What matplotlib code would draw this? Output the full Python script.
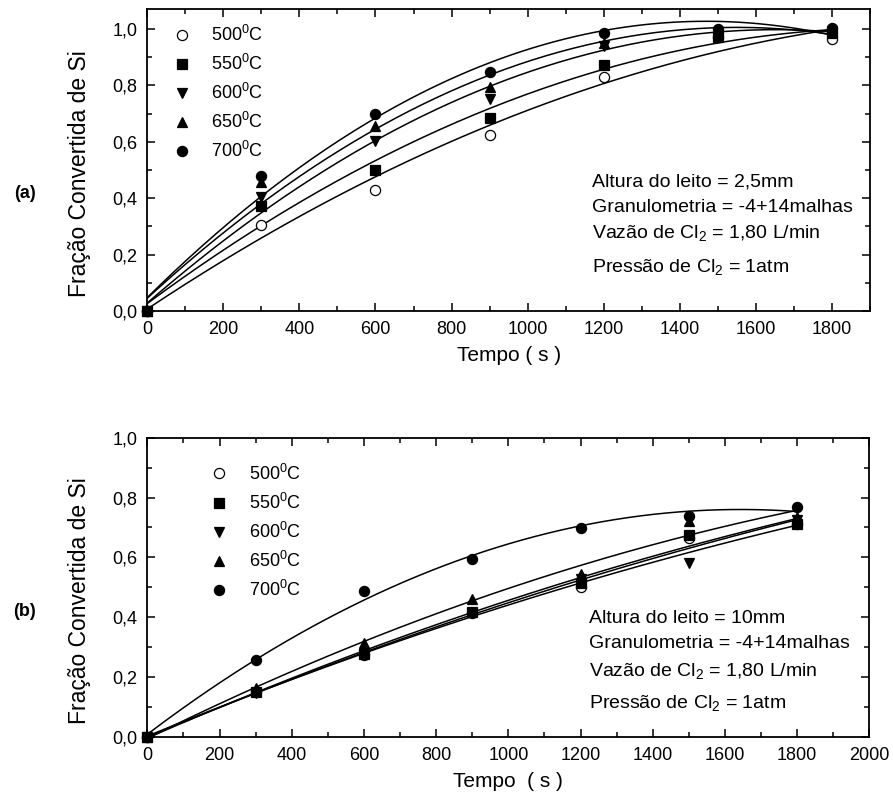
import numpy as np
import matplotlib
matplotlib.use('Agg')
import matplotlib.pyplot as plt
from matplotlib.ticker import MultipleLocator, FuncFormatter

plt.rcParams['font.family'] = ['Liberation Sans', 'DejaVu Sans']
plt.rcParams['mathtext.fontset'] = 'custom'
plt.rcParams['mathtext.rm'] = 'Liberation Sans'
plt.rcParams['mathtext.it'] = 'Liberation Sans'
plt.rcParams['mathtext.default'] = 'regular'

tempo = [0, 300, 600, 900, 1200, 1500, 1800]
temps = ['500', '550', '600', '650', '700']
markers = ['o', 's', 'v', '^', 'o']
filled = [False, True, True, True, True]

# (a) altura do leito 2,5mm
frac_a_500 = [0.0, 0.305, 0.430, 0.625, 0.829, 0.970, 0.965]
frac_a_550 = [0.0, 0.371, 0.501, 0.684, 0.871, 0.972, 0.986]
frac_a_600 = [0.0, 0.404, 0.602, 0.753, 0.941, 0.989, 0.992]
frac_a_650 = [0.0, 0.456, 0.655, 0.795, 0.951, 0.996, 0.996]
frac_a_700 = [0.0, 0.480, 0.699, 0.848, 0.986, 1.000, 1.004]

# (b) altura do leito 10mm
frac_b_500 = [0.0, 0.151, 0.274, 0.415, 0.502, 0.664, 0.712]
frac_b_550 = [0.0, 0.151, 0.277, 0.419, 0.516, 0.675, 0.712]
frac_b_600 = [0.0, 0.148, 0.277, 0.413, 0.527, 0.580, 0.725]
frac_b_650 = [0.0, 0.163, 0.315, 0.460, 0.543, 0.723, 0.736]
frac_b_700 = [0.0, 0.257, 0.489, 0.595, 0.697, 0.739, 0.767]

series_a = [frac_a_500, frac_a_550, frac_a_600, frac_a_650, frac_a_700]
series_b = [frac_b_500, frac_b_550, frac_b_600, frac_b_650, frac_b_700]

notes_a = ['Altura do leito = 2,5mm', 'Granulometria = -4+14malhas',
           'Vazão de Cl$_2$ = 1,80 L/min', 'Pressão de Cl$_2$ = 1atm']
notes_b = ['Altura do leito = 10mm', 'Granulometria = -4+14malhas',
           'Vazão de Cl$_2$ = 1,80 L/min', 'Pressão de Cl$_2$ = 1atm']


def comma(v, pos):
    return ('%.1f' % v).replace('.', ',')


def draw(ax, series, notes, xmax, ymax, xlabel, tag, tag_y, leg_anchor, note_pos):
    tt = np.linspace(0, 1800, 200)
    handles = []
    for vals, temp, mk, fl in zip(series, temps, markers, filled):
        # quadratic fit like the original curves
        coef = np.polyfit(tempo, vals, 2)
        ax.plot(tt, np.polyval(coef, tt), color='black', lw=1.1, zorder=2)
        h, = ax.plot(tempo, vals, ls='none', marker=mk, ms=7.3,
                     mfc='black' if fl else 'white', mec='black', mew=0.9,
                     label=temp + '$^{0}$C', zorder=3, clip_on=False)
        handles.append(h)

    ax.set_xlim(0, xmax)
    ax.set_ylim(0, ymax)
    ax.xaxis.set_major_locator(MultipleLocator(200))
    ax.xaxis.set_minor_locator(MultipleLocator(100))
    ax.yaxis.set_major_locator(MultipleLocator(0.2))
    ax.yaxis.set_minor_locator(MultipleLocator(0.1))
    ax.xaxis.set_major_formatter(FuncFormatter(lambda v, p: '%d' % v))
    ax.yaxis.set_major_formatter(FuncFormatter(comma))
    ax.tick_params(which='both', direction='in', top=True, right=True,
                   labelsize=13, width=1.1, pad=7)
    ax.tick_params(which='major', length=6)
    ax.tick_params(which='minor', length=3.5)
    for s in ax.spines.values():
        s.set_linewidth(1.3)

    ax.set_xlabel(xlabel, fontsize=15, labelpad=6)
    ax.set_ylabel('Fração Convertida de Si', fontsize=16.5)
    ax.yaxis.set_label_coords(-0.078, 0.455)

    ax.legend(handles=handles, loc='upper left', bbox_to_anchor=leg_anchor,
              frameon=False, fontsize=13, handlelength=1.0, handletextpad=1.15,
              labelspacing=0.5, borderpad=0, borderaxespad=0, numpoints=1)

    for txt, yy in zip(notes, note_pos[1]):
        ax.text(note_pos[0], yy, txt, transform=ax.transAxes, fontsize=14,
                va='center', ha='left')

    ax.text(-0.17, tag_y, tag, transform=ax.transAxes, fontsize=13,
            fontweight='bold', ha='center', va='center')


fig = plt.figure(figsize=(8.93, 8.05), dpi=100)
ax1 = fig.add_axes([0.165, 0.6137, 0.809, 0.3749])
ax2 = fig.add_axes([0.165, 0.0845, 0.8085, 0.3718])

draw(ax1, series_a, notes_a, 1900, 1.07, 'Tempo ( s )', '(a)', 0.39,
     (0.035, 0.948), (0.615, [0.429, 0.344, 0.258, 0.146]))
draw(ax2, series_b, notes_b, 2000, 1.0, 'Tempo  ( s )', '(b)', 0.42,
     (0.087, 0.913), (0.612, [0.397, 0.311, 0.222, 0.113]))

fig.savefig('out.png', dpi=100)
